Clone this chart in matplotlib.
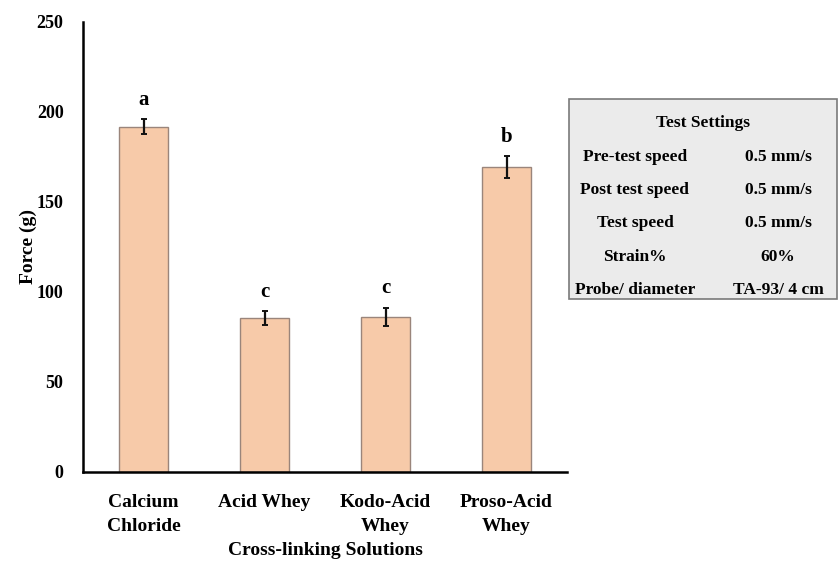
import matplotlib
matplotlib.use("Agg")
import matplotlib.pyplot as plt
from matplotlib.patches import Rectangle

plt.rcParams['font.family'] = ['Liberation Serif', 'DejaVu Serif']
plt.rcParams['font.weight'] = 'bold'

categories = ["Calcium\nChloride", "Acid Whey", "Kodo-Acid\nWhey", "Proso-Acid\nWhey"]
force = [191.8, 85.4, 86.3, 169.3]
errors = [4.1, 4.0, 5.0, 6.1]
letters = ["a", "c", "c", "b"]

table_title = "Test Settings"
setting_names = ["Pre-test speed", "Post test speed", "Test speed", "Strain%", "Probe/ diameter"]
setting_values = ["0.5 mm/s", "0.5 mm/s", "0.5 mm/s", "60%", "TA-93/ 4 cm"]

fig = plt.figure(figsize=(8.39, 5.64), dpi=100)
ax = fig.add_axes([83/839, (564-472)/564, (567-83)/839, 450/564])

x = list(range(len(categories)))
ax.bar(x, force, width=0.41, color='#f7caa9', edgecolor='#9a857b', linewidth=1.0, zorder=2)
ax.errorbar(x, force, yerr=errors, fmt='none', ecolor='#111111', elinewidth=1.6,
            capsize=2.5, capthick=1.4, zorder=3)

for xi, v, e, lab in zip(x, force, errors, letters):
    ax.annotate(lab, (xi, v + e), xytext=(0, 14), textcoords='offset points',
                ha='center', va='center', fontsize=15, fontweight='bold')

ax.set_xlim(-0.5, 3.5)
ax.set_ylim(0, 250)
ax.set_yticks([0, 50, 100, 150, 200, 250])
ax.set_xticks(x)
ax.set_xticklabels(categories, fontsize=14, fontweight='bold', linespacing=1.5)
ax.tick_params(axis='both', length=0)
ax.tick_params(axis='y', pad=14, labelsize=13)
ax.tick_params(axis='x', pad=16)
for t in ax.get_yticklabels():
    t.set_fontweight('bold')
ax.spines['top'].set_visible(False)
ax.spines['right'].set_visible(False)
ax.spines['left'].set_linewidth(1.8)
ax.spines['bottom'].set_linewidth(1.8)
ax.set_ylabel("Force (g)", fontsize=14, fontweight='bold', labelpad=0)
ax.set_xlabel("Cross-linking Solutions", fontsize=14, fontweight='bold', labelpad=5)

# Inset settings table
W, H = 839, 564
box_l, box_t, box_r, box_b = 569, 99, 837, 299
fig.patches.append(Rectangle((box_l/W, 1 - box_b/H), (box_r-box_l)/W, (box_b-box_t)/H,
                             transform=fig.transFigure, facecolor='#ebebeb',
                             edgecolor='#7a7a7a', linewidth=1.2))
fig.text(703/W, 1 - 123/H, table_title, ha='center', va='center', fontsize=12.5, fontweight='bold')
row_y = [157, 190, 223, 257, 290]
for ry, n, v in zip(row_y, setting_names, setting_values):
    fig.text(635/W, 1 - ry/H, n, ha='center', va='center', fontsize=12.5, fontweight='bold')
    fig.text(778/W, 1 - ry/H, v, ha='center', va='center', fontsize=12.5, fontweight='bold')

fig.savefig("out.png", dpi=100)
